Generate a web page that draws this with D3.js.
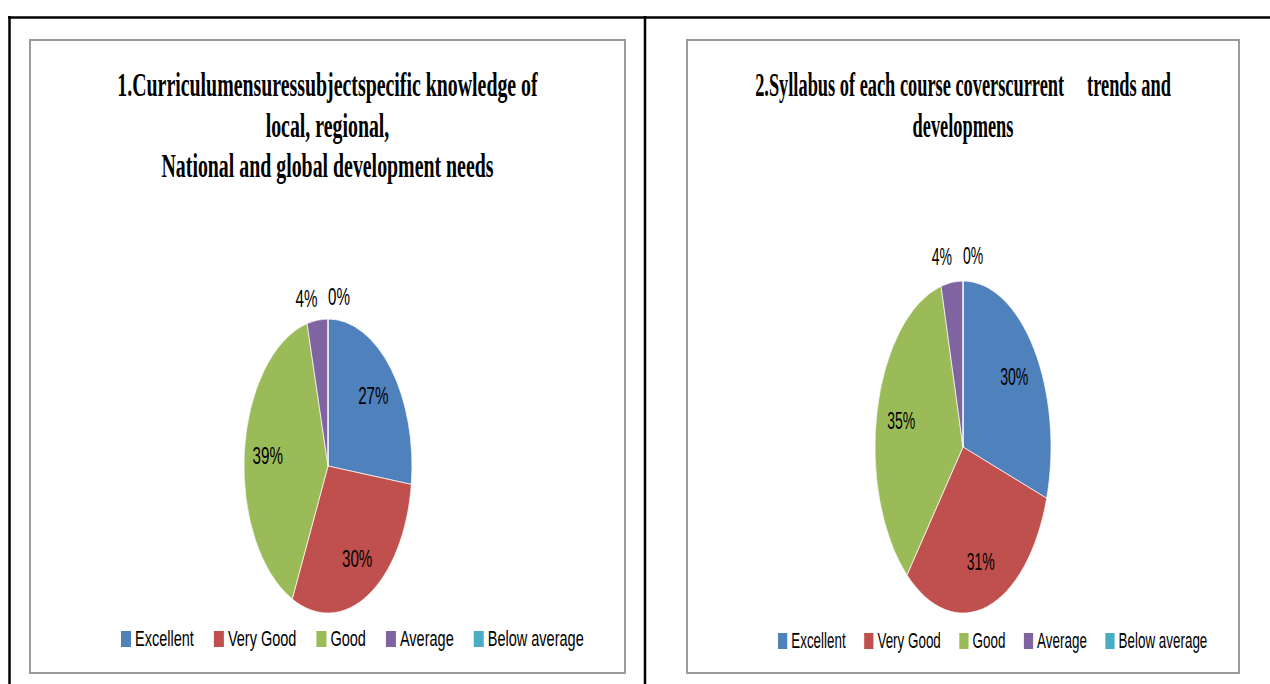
<!DOCTYPE html>
<html>
<head>
<meta charset="utf-8">
<script src="https://cdnjs.cloudflare.com/ajax/libs/d3/7.8.5/d3.min.js"></script>
<style>
  body { margin: 0; background: #fff; }
  svg { display: block; }
</style>
</head>
<body>
<svg id="page" width="1270" height="684"></svg>
<script>
// chart data
var categories = ["Excellent", "Very Good", "Good", "Average", "Below average"];
var colours = ["#4F81BD", "#C0504D", "#9BBB59", "#8064A2", "#4BACC6"];
var values1 = [27, 30, 39, 4, 0];
var values2 = [30, 31, 35, 4, 0];
var title1 = ["1.Curriculumensuressubjectspecific knowledge of", "local, regional,", "National and global development needs"];
var title2 = ["2.Syllabus of each course coverscurrent     trends and", "developmens"];

var svg = d3.select("#page");

//// TABLE LINES ////
svg.append("line").attr("x1", 8).attr("x2", 1270).attr("y1", 17.5).attr("y2", 17.5)
  .attr("stroke", "#000").attr("stroke-width", 2.5);
svg.append("line").attr("x1", 9.5).attr("x2", 9.5).attr("y1", 16).attr("y2", 684)
  .attr("stroke", "#000").attr("stroke-width", 2.5);
svg.append("line").attr("x1", 645).attr("x2", 645).attr("y1", 16).attr("y2", 684)
  .attr("stroke", "#000").attr("stroke-width", 2.5);

var panels = [
  { values: values1, title: title1, box: [30, 40, 595, 633], cx: 328, cy: 466, rx: 84, ry: 147,
    sx: 0.66, titleY: 96, legendY: 639, legendX: 121 },
  { values: values2, title: title2, box: [687, 40, 552, 633], cx: 963, cy: 447, rx: 88, ry: 166,
    sx: 0.61, titleY: 96, legendY: 641, legendX: 778 }
];

var pie = d3.pie().value(function (d) { return d; }).sort(null);
var arc = d3.arc().innerRadius(0).outerRadius(1);

function condensed(g, x, y, sx) {
  return g.append("text").attr("transform", "translate(" + x + "," + y + ") scale(" + sx + ",1)");
}

panels.forEach(function (p) {
  var g = svg.append("g");

  // chart frame
  g.append("rect")
    .attr("x", p.box[0]).attr("y", p.box[1])
    .attr("width", p.box[2]).attr("height", p.box[3])
    .attr("fill", "#fff").attr("stroke", "#9a9a9a").attr("stroke-width", 2);

  // title
  var boxMid = p.box[0] + p.box[2] / 2;
  p.title.forEach(function (line, i) {
    condensed(g, boxMid, p.titleY + i * 40.5, p.sx * 0.885)
      .attr("text-anchor", "middle")
      .attr("font-family", "'Liberation Serif', 'Times New Roman', serif")
      .attr("font-weight", "bold")
      .attr("font-size", 34)
      .attr("fill", "#000")
      .style("white-space", "pre")
      .text(line);
  });

  // pie slices
  var arcs = pie(p.values);
  g.append("g")
    .attr("transform", "translate(" + p.cx + "," + p.cy + ") scale(" + p.rx + "," + p.ry + ")")
    .selectAll("path")
    .data(arcs)
    .enter().append("path")
    .attr("d", arc)
    .attr("fill", function (d, i) { return colours[i]; })
    .attr("stroke", "#fff")
    .attr("stroke-width", 0.7)
    .attr("vector-effect", "non-scaling-stroke");

  // slice labels (inside, or just outside for thin slices)
  arcs.forEach(function (d) {
    var a = (d.startAngle + d.endAngle) / 2;
    var small = d.value < 5;
    var k = small ? 1.15 : 0.72;
    var x = p.cx + Math.sin(a) * p.rx * (small ? 1.0 : k);
    var y = p.cy - Math.cos(a) * p.ry * k;
    var anchor = "middle";
    if (small) anchor = Math.sin(a) < -0.01 ? "end" : "start";
    condensed(g, x, y, p.sx)
      .attr("text-anchor", anchor)
      .attr("dominant-baseline", "central")
      .attr("font-family", "'Liberation Sans', Arial, sans-serif")
      .attr("font-size", 23)
      .attr("fill", "#000")
      .text(d.value + "%");
  });

  // legend
  var lx = p.legendX;
  categories.forEach(function (c, i) {
    g.append("rect")
      .attr("x", lx).attr("y", p.legendY - 8)
      .attr("width", 10 * p.sx / 0.66).attr("height", 16)
      .attr("fill", colours[i]);
    lx += 10 * p.sx / 0.66 + 4;
    var t = condensed(g, lx, p.legendY + 7, p.sx)
      .attr("font-family", "'Liberation Sans', Arial, sans-serif")
      .attr("font-size", 22)
      .attr("fill", "#000")
      .text(c);
    lx += t.node().getComputedTextLength() * p.sx + 20 * p.sx / 0.66;
  });
});
</script>
</body>
</html>
